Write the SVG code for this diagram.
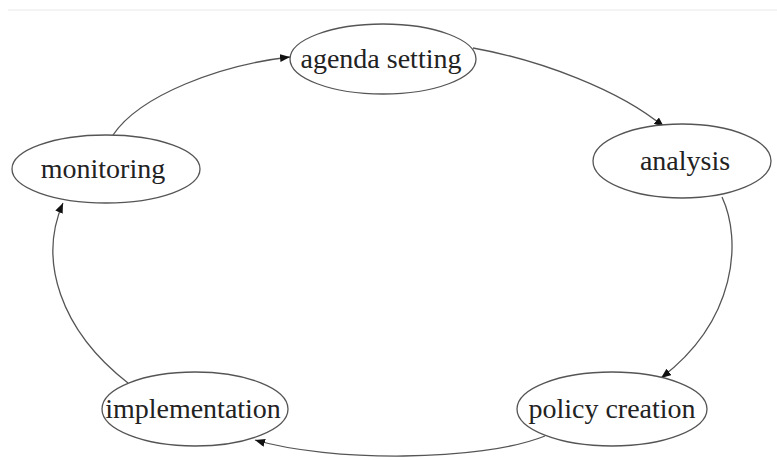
<svg xmlns="http://www.w3.org/2000/svg" width="777" height="460" viewBox="0 0 777 460">
<defs>
<style>
.node ellipse{fill:#fff;stroke:#555;stroke-width:1.3}
.node text{font-family:"Liberation Serif","Times New Roman",serif;font-size:28px;fill:#222;text-anchor:middle}
.edge{fill:none;stroke:#555;stroke-width:1.3}
</style>
<marker id="arr" markerUnits="userSpaceOnUse" markerWidth="12" markerHeight="10" refX="10" refY="4" orient="auto">
<path d="M0,0 L10,4 L0,8 Z" fill="#111"/>
</marker>
</defs>
<rect width="777" height="460" fill="#fff"/>
<line x1="8" y1="10" x2="777" y2="10" stroke="#e8e8e8" stroke-width="1"/>
<g id="connectors">
<path class="edge" d="M113,135 C140,95 220,65 290,57" marker-end="url(#arr)"/>
<path class="edge" d="M473,48 C540,60 620,90 664,127" marker-end="url(#arr)"/>
<path class="edge" d="M722,197 C742,240 737,320 661,378" marker-end="url(#arr)"/>
<path class="edge" d="M545,436 C480,462 330,462 255,440" marker-end="url(#arr)"/>
<path class="edge" d="M128,383 C60,330 38,260 63,203" marker-end="url(#arr)"/>
</g>
<g id="agenda-setting" class="node">
<ellipse cx="383" cy="59" rx="93" ry="35"/>
<text x="381" y="68">agenda setting</text>
</g>
<g id="analysis" class="node">
<ellipse cx="682" cy="161" rx="89" ry="37"/>
<text x="685" y="170">analysis</text>
</g>
<g id="policy-creation" class="node">
<ellipse cx="612" cy="409" rx="95" ry="37"/>
<text x="612" y="418">policy creation</text>
</g>
<g id="implementation" class="node">
<ellipse cx="195" cy="409" rx="93" ry="37"/>
<text x="193" y="418">implementation</text>
</g>
<g id="monitoring" class="node">
<ellipse cx="106" cy="169" rx="94" ry="34"/>
<text x="103" y="178">monitoring</text>
</g>
</svg>
